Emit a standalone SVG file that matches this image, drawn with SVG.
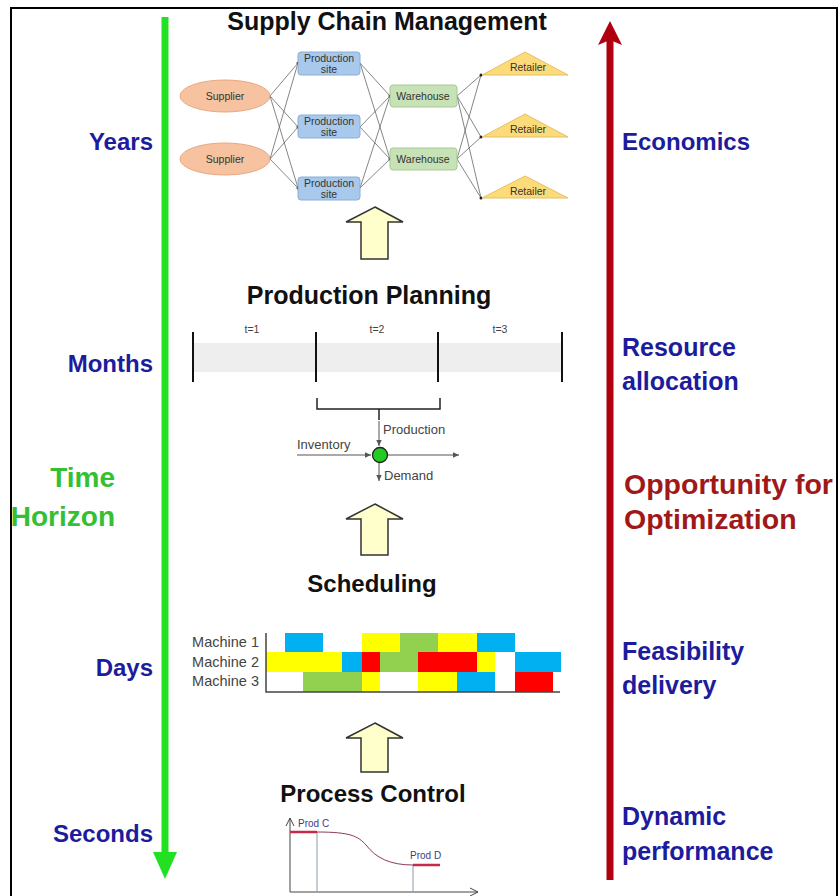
<svg xmlns="http://www.w3.org/2000/svg" width="839" height="896" viewBox="0 0 839 896">
<defs>
<style>
.lbl{font-family:"Liberation Sans",Arial,sans-serif;font-weight:bold;font-size:25px;fill:#1c1c9c}
.lft{text-anchor:end;font-size:24px}
.grn{fill:#33c033;font-size:28px}
.opt{fill:#a01818;font-size:28.5px}
.ttl{font-family:"Liberation Sans",Arial,sans-serif;font-weight:bold;font-size:25px;fill:#111;text-anchor:middle}
.sm{font-family:"Liberation Sans",Arial,sans-serif;font-size:10.5px;fill:#333;text-anchor:middle}
.tx{font-family:"Liberation Sans",Arial,sans-serif;font-size:13px;fill:#444}
.edge{stroke:#666;stroke-width:0.8;fill:none}
.hollow{fill:#ffffcc;stroke:#333;stroke-width:1.5}
.ps{fill:#a9c9ec;stroke:#8aaed6;stroke-width:1}
.wh{fill:#c7e2b6;stroke:#a9c896;stroke-width:1}
.sup{fill:#f6c2a0;stroke:#e8a880;stroke-width:1}
.ret{fill:#fcdb7a;stroke:#e6c060;stroke-width:1}
.bar{stroke:#111;stroke-width:2}
.B{fill:#00b0f0}.Y{fill:#ffff00}.G{fill:#92d050}.R{fill:#ff0000}
</style>
<marker id="ah" viewBox="0 0 10 10" refX="9" refY="5" markerWidth="7" markerHeight="7" orient="auto"><path d="M0,1 L9,5 L0,9 z" fill="#555"/></marker>
<marker id="chev" viewBox="0 0 10 10" refX="9" refY="5" markerWidth="10" markerHeight="10" orient="auto"><path d="M1,1 L9,5 L1,9" fill="none" stroke="#444" stroke-width="1"/></marker>
</defs>
<rect x="0" y="0" width="839" height="896" fill="#fff"/>
<path d="M11,900 V8 H837 V900" fill="none" stroke="#000" stroke-width="2"/>

<g id="time-axis">
<line x1="165" y1="17" x2="165" y2="858" stroke="#22e022" stroke-width="7"/>
<polygon points="153,852 177,852 165,879" fill="#22e022"/>
</g>
<g id="opt-axis">
<line x1="610" y1="40" x2="610" y2="880" stroke="#b00010" stroke-width="7"/>
<polygon points="598,45 610,21 622,45 610,40" fill="#b00010"/>
</g>

<g id="left-labels">
<text class="lbl lft" x="153" y="150">Years</text>
<text class="lbl lft" x="153" y="372">Months</text>
<text class="lbl lft grn" x="115" y="487">Time</text>
<text class="lbl lft grn" x="115" y="526">Horizon</text>
<text class="lbl lft" x="153" y="676">Days</text>
<text class="lbl lft" x="153" y="842">Seconds</text>
</g>
<g id="right-labels">
<text class="lbl" x="622" y="150" style="font-size:24px">Economics</text>
<text class="lbl" x="622" y="356">Resource</text>
<text class="lbl" x="622" y="390">allocation</text>
<text class="lbl opt" x="624" y="494">Opportunity for</text>
<text class="lbl opt" x="624" y="529">Optimization</text>
<text class="lbl" x="622" y="660">Feasibility</text>
<text class="lbl" x="622" y="694">delivery</text>
<text class="lbl" x="622" y="825">Dynamic</text>
<text class="lbl" x="622" y="860">performance</text>
</g>

<g id="titles">
<text class="ttl" x="387" y="30">Supply Chain Management</text>
<text class="ttl" x="369" y="304">Production Planning</text>
<text class="ttl" x="372" y="592" style="font-size:24px">Scheduling</text>
<text class="ttl" x="373" y="802" style="font-size:24px">Process Control</text>
</g>

<g id="connectors">
<path class="edge" d="M270,96 L298,63 M270,96 L298,127 M270,96 L298,188 M270,159 L298,63 M270,159 L298,127 M270,159 L298,188"/>
<path class="edge" d="M360,63 L390,96 M360,63 L390,159 M360,127 L390,96 M360,127 L390,159 M360,188 L390,96 M360,188 L390,159"/>
<path class="edge" d="M457,96 L481,75 M457,96 L481,137 M457,96 L481,198 M457,159 L481,75 M457,159 L481,137 M457,159 L481,198"/>
<g fill="#222">
<circle cx="298" cy="63" r="1.5"/><circle cx="298" cy="127" r="1.5"/><circle cx="298" cy="188" r="1.5"/>
<circle cx="390" cy="96" r="1.5"/><circle cx="390" cy="159" r="1.5"/>
<circle cx="481" cy="75" r="1.5"/><circle cx="481" cy="137" r="1.5"/><circle cx="481" cy="198" r="1.5"/>
</g>
</g>

<g id="supplier-1"><ellipse class="sup" cx="225" cy="96" rx="45" ry="16"/><text class="sm" x="225" y="100">Supplier</text></g>
<g id="supplier-2"><ellipse class="sup" cx="225" cy="159" rx="45" ry="16"/><text class="sm" x="225" y="163">Supplier</text></g>
<g id="production-site-1"><rect class="ps" x="298" y="52" width="62" height="23" rx="3"/><text class="sm" x="329" y="62">Production</text><text class="sm" x="329" y="73">site</text></g>
<g id="production-site-2"><rect class="ps" x="298" y="115" width="62" height="23" rx="3"/><text class="sm" x="329" y="125">Production</text><text class="sm" x="329" y="136">site</text></g>
<g id="production-site-3"><rect class="ps" x="298" y="177" width="62" height="23" rx="3"/><text class="sm" x="329" y="187">Production</text><text class="sm" x="329" y="198">site</text></g>
<g id="warehouse-1"><rect class="wh" x="390" y="85" width="67" height="22" rx="3"/><text class="sm" x="423" y="100">Warehouse</text></g>
<g id="warehouse-2"><rect class="wh" x="390" y="148" width="67" height="22" rx="3"/><text class="sm" x="423" y="163">Warehouse</text></g>
<g id="retailer-1"><polygon class="ret" points="482,75 525,52 568,75"/><text class="sm" x="528" y="71">Retailer</text></g>
<g id="retailer-2"><polygon class="ret" points="482,137 525,114 568,137"/><text class="sm" x="528" y="133">Retailer</text></g>
<g id="retailer-3"><polygon class="ret" points="482,198 525,176 568,198"/><text class="sm" x="528" y="195">Retailer</text></g>

<g id="up-arrow-1"><polygon class="hollow" points="375,207 403,222 388,222 388,259 361,259 361,222 346,222"/></g>
<g id="up-arrow-2"><polygon class="hollow" points="375,504 403,519 388,519 388,555 361,555 361,519 346,519"/></g>
<g id="up-arrow-3"><polygon class="hollow" points="375,723 403,738 388,738 388,772 361,772 361,738 346,738"/></g>

<g id="production-planning">
<rect x="193" y="343" width="369" height="29" fill="#eeeeee"/>
<line class="bar" x1="193" y1="332" x2="193" y2="382"/>
<line class="bar" x1="316" y1="332" x2="316" y2="382"/>
<line class="bar" x1="438" y1="332" x2="438" y2="382"/>
<line class="bar" x1="562" y1="332" x2="562" y2="382"/>
<text class="tx" x="252" y="333" text-anchor="middle" style="font-size:10.5px">t=1</text>
<text class="tx" x="377" y="333" text-anchor="middle" style="font-size:10.5px">t=2</text>
<text class="tx" x="500" y="333" text-anchor="middle" style="font-size:10.5px">t=3</text>
<path d="M317,398 V409 H440 V398 M379,409 V420" fill="none" stroke="#222" stroke-width="1.5"/>
<line x1="379" y1="421" x2="379" y2="446" stroke="#555" stroke-width="1" marker-end="url(#ah)"/>
<text class="tx" x="383" y="434">Production</text>
<line x1="297" y1="455" x2="371" y2="455" stroke="#555" stroke-width="1" marker-end="url(#ah)"/>
<text class="tx" x="297" y="449">Inventory</text>
<line x1="388" y1="455" x2="459" y2="455" stroke="#555" stroke-width="1" marker-end="url(#ah)"/>
<line x1="379" y1="463" x2="379" y2="481" stroke="#555" stroke-width="1" marker-end="url(#ah)"/>
<text class="tx" x="384" y="480">Demand</text>
<circle cx="380" cy="455" r="7.5" fill="#22cc22" stroke="#222" stroke-width="1.3"/>
</g>

<g id="scheduling">
<text class="tx" x="259" y="647" text-anchor="end" style="font-size:14.5px">Machine 1</text>
<text class="tx" x="259" y="667" text-anchor="end" style="font-size:14.5px">Machine 2</text>
<text class="tx" x="259" y="686" text-anchor="end" style="font-size:14.5px">Machine 3</text>
<rect class="B" x="285" y="633" width="38" height="19"/>
<rect class="Y" x="362" y="633" width="38" height="19"/>
<rect class="G" x="400" y="633" width="38" height="19"/>
<rect class="Y" x="438" y="633" width="39" height="19"/>
<rect class="B" x="477" y="633" width="38" height="19"/>
<rect class="Y" x="266" y="652" width="76" height="20"/>
<rect class="B" x="342" y="652" width="20" height="20"/>
<rect class="R" x="362" y="652" width="18" height="20"/>
<rect class="G" x="380" y="652" width="38" height="20"/>
<rect class="R" x="418" y="652" width="59" height="20"/>
<rect class="Y" x="477" y="652" width="18" height="20"/>
<rect class="B" x="515" y="652" width="46" height="20"/>
<rect class="G" x="303" y="672" width="59" height="20"/>
<rect class="Y" x="362" y="672" width="18" height="20"/>
<rect class="Y" x="418" y="672" width="39" height="20"/>
<rect class="B" x="457" y="672" width="38" height="20"/>
<rect class="R" x="515" y="672" width="38" height="20"/>
<path d="M266,633 V692 H560" fill="none" stroke="#444" stroke-width="1.5"/>
</g>

<g id="process-control">
<line x1="290" y1="892" x2="290" y2="818" stroke="#444" stroke-width="1" marker-end="url(#chev)"/>
<line x1="290" y1="892" x2="478" y2="892" stroke="#444" stroke-width="1" marker-end="url(#chev)"/>
<line x1="317" y1="832" x2="317" y2="892" stroke="#8a9aaa" stroke-width="1"/>
<line x1="413" y1="865" x2="413" y2="892" stroke="#8a9aaa" stroke-width="1"/>
<path d="M317,832 C350,832 358,836 366,845 C376,858 390,865 413,865" fill="none" stroke="#8a3a5a" stroke-width="1"/>
<line x1="290" y1="832" x2="317" y2="832" stroke="#c8284a" stroke-width="2.5"/>
<line x1="413" y1="865" x2="440" y2="865" stroke="#c8284a" stroke-width="2.5"/>
<text class="tx" x="298" y="827" style="fill:#3a3a8a;font-size:10px">Prod C</text>
<text class="tx" x="410" y="859" style="fill:#3a3a8a;font-size:10px">Prod D</text>
</g>
</svg>
